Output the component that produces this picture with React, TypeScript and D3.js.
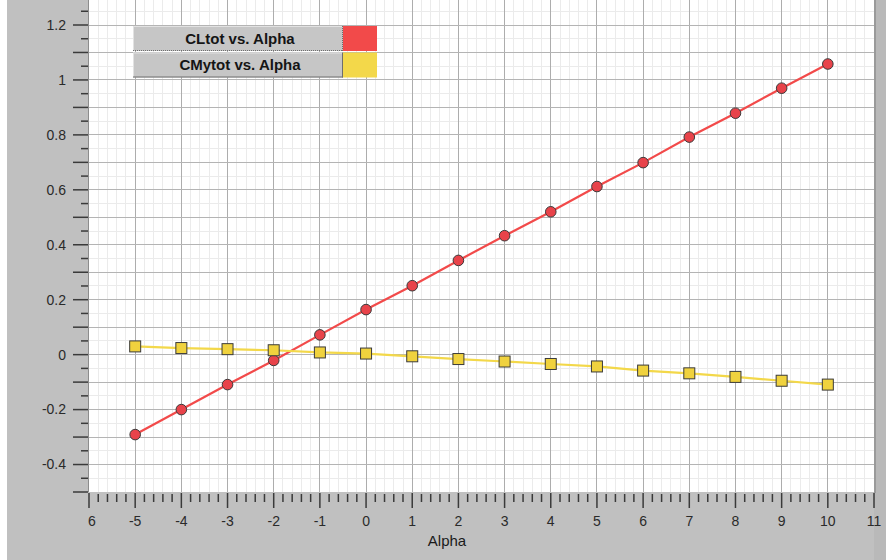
import React from "react";
import * as d3 from "d3";

// Angle of attack (deg) and the two aerodynamic coefficients
const alpha = [-5, -4, -3, -2, -1, 0, 1, 2, 3, 4, 5, 6, 7, 8, 9, 10];
const clTot = [-0.291, -0.2, -0.109, -0.021, 0.072, 0.164, 0.251, 0.343, 0.433, 0.52, 0.612, 0.699, 0.792, 0.879, 0.97, 1.058];
const cmTot = [0.03, 0.024, 0.02, 0.016, 0.008, 0.004, -0.006, -0.016, -0.025, -0.034, -0.043, -0.058, -0.068, -0.081, -0.095, -0.109];

const seriesNames = ["CLtot vs. Alpha", "CMytot vs. Alpha"];
const seriesColors = ["#f24a4a", "#f3d84a"];
const markerFills = ["#e8434a", "#f0d23e"];

const xTickValues = d3.range(-6, 12);
const xTickLabels = ["6", "-5", "-4", "-3", "-2", "-1", "0", "1", "2", "3", "4", "5", "6", "7", "8", "9", "10", "11"];
const yLabelValues = [-0.4, -0.2, 0, 0.2, 0.4, 0.6, 0.8, 1, 1.2];
const xAxisTitle = "Alpha";

const W = 886;
const H = 560;
const plot = { left: 89, right: 874, top: 0, bottom: 492 };

export default function App() {
  const x = d3.scaleLinear().domain([-6, 11]).range([plot.left, plot.right]);
  const y = d3.scaleLinear().domain([-0.5, 1.2]).range([plot.bottom, 25]);
  const yTopVal = y.invert(plot.top);

  const minorX = d3.range(-6, 11.0001, 0.2).map((v) => Math.round(v * 10) / 10).filter((v) => !Number.isInteger(v));
  const majorX = d3.range(-5, 11);
  const minorY = d3.range(-0.45, yTopVal, 0.1).map((v) => Math.round(v * 100) / 100);
  const majorY = d3.range(-0.4, yTopVal, 0.1).map((v) => Math.round(v * 10) / 10);
  const yTicksLong = d3.range(-0.5, yTopVal + 0.2, 0.1).map((v) => Math.round(v * 10) / 10);
  const yTicksShort = d3.range(-0.45, yTopVal + 0.2, 0.1).map((v) => Math.round(v * 100) / 100);

  const line = d3
    .line<number>()
    .x((_, i) => x(alpha[i]))
    .y((d) => y(d));

  const series = [clTot, cmTot];
  const font = "'Liberation Sans', Arial, sans-serif";

  return (
    <svg
      width={W}
      height={H}
      style={{ position: "fixed", left: 0, top: 0, display: "block" }}
      fontFamily={font}
    >
      <defs>
        <clipPath id="plotClip">
          <rect x={plot.left} y={plot.top} width={plot.right - plot.left} height={plot.bottom - plot.top} />
        </clipPath>
      </defs>
      <rect x={0} y={0} width={W} height={H} fill="#ffffff" />
      <rect x={7} y={0} width={W - 7} height={H} fill="#c0c0c0" />
      <rect x={plot.right} y={0} width={W - plot.right} height={H} fill="#b9b9b9" />
      <rect x={plot.left} y={plot.top} width={plot.right - plot.left} height={plot.bottom - plot.top} fill="#ffffff" />

      {/* grid */}
      <g shapeRendering="crispEdges">
        {minorX.map((v) => (
          <line key={"mx" + v} x1={x(v)} x2={x(v)} y1={plot.top} y2={plot.bottom} stroke="#ebebeb" />
        ))}
        {minorY.map((v) => (
          <line key={"my" + v} x1={plot.left} x2={plot.right} y1={y(v)} y2={y(v)} stroke="#ebebeb" />
        ))}
        {majorX.map((v) => (
          <line key={"Mx" + v} x1={x(v)} x2={x(v)} y1={plot.top} y2={plot.bottom} stroke="#adadad" />
        ))}
        {majorY.map((v) => (
          <line key={"My" + v} x1={plot.left} x2={plot.right} y1={y(v)} y2={y(v)} stroke="#b4b4b4" />
        ))}
        <line x1={plot.left - 0.5} x2={plot.left - 0.5} y1={0} y2={plot.bottom} stroke="#8c8c8c" />
        <rect x={plot.right} y={0} width={2} height={plot.bottom + 1} fill="#9a9a9a" />
      </g>

      {/* y axis ticks and labels */}
      <g stroke="#3a3a3a" strokeWidth={1.5}>
        {yTicksLong.map((v) => (
          <line key={"yl" + v} x1={plot.left - 16} x2={plot.left - 1} y1={y(v)} y2={y(v)} />
        ))}
        {yTicksShort.map((v) => (
          <line key={"ys" + v} x1={plot.left - 8} x2={plot.left - 1} y1={y(v)} y2={y(v)} />
        ))}
      </g>
      {yLabelValues.map((v) => (
        <text key={"yt" + v} x={66} y={y(v)} dy="0.35em" textAnchor="end" fontSize={14} fill="#2a2a2a">
          {String(v)}
        </text>
      ))}

      {/* x axis ticks and labels */}
      <g stroke="#3a3a3a" strokeWidth={1.5}>
        {xTickValues.map((v) => (
          <line key={"xl" + v} x1={x(v)} x2={x(v)} y1={plot.bottom + 1} y2={plot.bottom + 16} />
        ))}
        {minorX.map((v) => (
          <line key={"xs" + v} x1={x(v)} x2={x(v)} y1={plot.bottom + 2} y2={plot.bottom + 10} />
        ))}
      </g>
      {xTickValues.map((v, i) => (
        <text
          key={"xt" + v}
          x={i === 0 ? x(v) - 1 : x(v)}
          y={526}
          textAnchor={i === 0 ? "start" : "middle"}
          fontSize={14}
          fill="#2a2a2a"
        >
          {xTickLabels[i]}
        </text>
      ))}
      <text x={447} y={546} textAnchor="middle" fontSize={15} fill="#1a1a1a">
        {xAxisTitle}
      </text>

      {/* series */}
      <g clipPath="url(#plotClip)">
        {series.map((vals, si) => (
          <path key={"ln" + si} d={line(vals) ?? ""} fill="none" stroke={seriesColors[si]} strokeWidth={2.2} />
        ))}
        {clTot.map((v, i) => (
          <circle key={"c" + i} cx={x(alpha[i])} cy={y(v)} r={5.3} fill={markerFills[0]} stroke="#3a3a3a" strokeWidth={1} />
        ))}
        {cmTot.map((v, i) => (
          <rect
            key={"s" + i}
            x={x(alpha[i]) - 5.5}
            y={y(v) - 5.5}
            width={11}
            height={11}
            fill={markerFills[1]}
            stroke="#3a3a3a"
            strokeWidth={1}
          />
        ))}
      </g>

      {/* legend */}
      {seriesNames.map((name, i) => {
        const top = 26 + i * 26.5;
        const bx = 133;
        const bw = 210;
        const bh = 25;
        return (
          <g key={"lg" + i}>
            <rect x={bx} y={top} width={bw} height={bh} fill="#c6c6c6" />
            <line x1={bx} x2={bx + bw} y1={top + 0.5} y2={top + 0.5} stroke="#e2e2e2" />
            <line x1={bx + 0.5} x2={bx + 0.5} y1={top} y2={top + bh} stroke="#e2e2e2" />
            <line x1={bx} x2={bx + bw} y1={top + bh - 0.5} y2={top + bh - 0.5} stroke="#6e6e6e" strokeDasharray={i === 0 ? "1,1" : undefined} />
            <line x1={bx + bw - 0.5} x2={bx + bw - 0.5} y1={top} y2={top + bh} stroke="#6e6e6e" strokeDasharray={i === 0 ? "1,1" : undefined} />
            <text x={bx + bw / 2 + 2} y={top + bh / 2} dy="0.36em" textAnchor="middle" fontSize={15} fontWeight="bold" fill="#151515">
              {name}
            </text>
            <rect x={bx + bw} y={top} width={34} height={bh} fill={seriesColors[i]} />
          </g>
        );
      })}
    </svg>
  );
}
